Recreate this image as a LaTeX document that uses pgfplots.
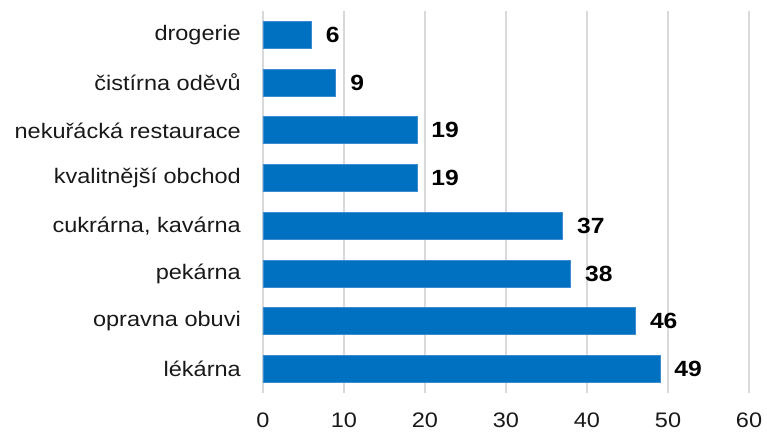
\documentclass[border=0pt]{standalone}
\usepackage{pgfplots}
\pgfplotsset{compat=1.18}
\usepackage{fontspec}
\setmainfont{Liberation Sans}[FakeStretch=1.12]
\definecolor{barblue}{RGB}{0,112,192}
\definecolor{baredge}{RGB}{60,140,210}
\definecolor{gridgray}{RGB}{217,217,217}
\begin{document}
\begin{tikzpicture}
\begin{axis}[
  at={(0pt,0pt)}, anchor=south west,
  scale only axis,
  width=486pt, height=382pt,
  xbar, bar width=27pt,
  xmin=0, xmax=60,
  ymin=-0.5, ymax=7.5,
  xtick={0,10,20,30,40,50,60},
  ytick={0,1,2,3,4,5,6,7},
  yticklabels={lékárna,opravna obuvi,pekárna,{cukrárna, kavárna},kvalitnější obchod,nekuřácká restaurace,čistírna oděvů,drogerie},
  xmajorgrids,
  grid style={draw=gridgray, line width=2pt},
  axis line style={draw=none},
  major tick length=0pt,
  /pgf/number format/assume math mode=true,
  tick label style={font=\fontsize{21}{21}\selectfont, text=black!90},
  xticklabel style={inner sep=0pt, anchor=north, yshift=-20pt},
  yticklabel style={inner sep=0pt, anchor=east, xshift=-22pt},
  nodes near coords,
  nodes near coords style={anchor=west, inner sep=0pt, xshift=14pt, font=\bfseries\fontsize{22}{22}\selectfont, text=black},
]
\addplot[fill=barblue, draw=baredge, line width=0.8pt] coordinates {
  (49,0) (46,1) (38,2) (37,3) (19,4) (19,5) (9,6) (6,7)
};
\end{axis}
\pgfresetboundingbox
\useasboundingbox (-263pt,-39pt) rectangle (504pt,393pt);
\end{tikzpicture}
\end{document}
